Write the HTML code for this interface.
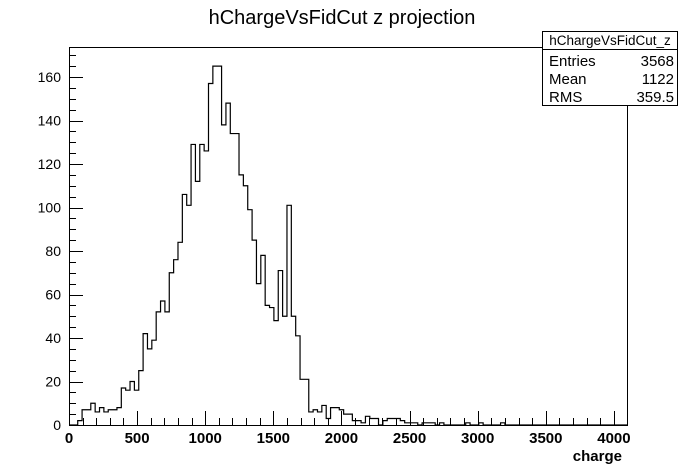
<!DOCTYPE html>
<html><head><meta charset="utf-8"><style>
body{margin:0;background:#fff;}
svg{display:block;font-family:"Liberation Sans",Arial,sans-serif;}
</style></head><body>
<svg id="c" width="696" height="472">
<rect width="696" height="472" fill="#fff"/>
<text x="342" y="24" font-size="20" text-anchor="middle">hChargeVsFidCut z projection</text>
<g id="plot"></g>
<g>
<rect x="542.5" y="31.5" width="135" height="74" fill="#fff" stroke="#000"/>
<line x1="542" y1="49.5" x2="678" y2="49.5" stroke="#000"/>
<text x="610" y="45" font-size="13.5" text-anchor="middle">hChargeVsFidCut_z</text>
<text x="549" y="66" font-size="15">Entries</text><text x="674" y="66" font-size="15" text-anchor="end">3568</text>
<text x="549" y="84" font-size="15">Mean</text><text x="674" y="84" font-size="15" text-anchor="end">1122</text>
<text x="549" y="102" font-size="15">RMS</text><text x="674" y="102" font-size="15" text-anchor="end">359.5</text>
</g>
<text x="622" y="461" font-size="15" font-weight="bold" text-anchor="end">charge</text>
</svg>
<script>
const binWidth = 32;
const counts = [0,0,2,7,7,10,6,8,6,7,7,8,17,16,20,16,25,42,35,39,52,57,52,70,76,84,106,101,129,112,129,126,157,165,165,138,148,134,134,115,110,99,85,65,78,55,54,48,71,50,101,50,41,21,21,6,7,6,9,3,8,8,7,5,5,2,2,1,4,3,3,0,2,3,3,3,2,1,1,1,0,1,1,1,0,1,0,0,0,0,0,1,0,0,1,0,0,0,0,1,0,0,0,0,0,0,0,0,0,0,0,0,0,0,0,0,0,0,0,0,0,0,0,0,0,0,0,0];
const yTicks = [0,20,40,60,80,100,120,140,160];
const xTicks = [0,500,1000,1500,2000,2500,3000,3500,4000];
const X0=69, X1=627, Y0=425, Y1=47, XMAX=4096;
const YMAX = 160*(Y0-Y1)/348;
const sx = v => X0 + v*(X1-X0)/XMAX;
const sy = v => Y0 - v*(Y0-Y1)/YMAX;
const NS="http://www.w3.org/2000/svg";
const g=document.getElementById('plot');
function mk(t,a){const e=document.createElementNS(NS,t);for(const k in a)e.setAttribute(k,a[k]);g.appendChild(e);return e;}
const frame=mk('rect',{x:X0+0.5,y:Y1+0.5,width:X1-X0,height:Y0-Y1,fill:'none',stroke:'#000'});


let d='M'+sx(0)+' '+sy(0);
counts.forEach((c,i)=>{d+=' L'+sx(i*binWidth)+' '+sy(c)+' L'+sx((i+1)*binWidth)+' '+sy(c);});
const h=mk('path',{d:d,fill:'none',stroke:'#000','stroke-width':1.2});


for(let v=0;v<=170;v+=5){const y=Math.round(sy(v))+0.5;const L=(v%20===0)?14:7;mk('line',{x1:X0,y1:y,x2:X0+L,y2:y,stroke:'#000'});}
yTicks.forEach(v=>{const t=mk('text',{x:X0-8,y:sy(v)+5,'font-size':14,'text-anchor':'end'});t.textContent=v;

});
for(let v=0;v<=4000;v+=100){const x=Math.round(sx(v))+0.5;const L=(v%500===0)?14:7;mk('line',{x1:x,y1:Y0,x2:x,y2:Y0-L,stroke:'#000'});}
xTicks.forEach(v=>{const t=mk('text',{x:sx(v),y:Y0+18,'font-size':15,'font-weight':'bold','text-anchor':'middle'});t.textContent=v;

});
</script>
</body></html>
